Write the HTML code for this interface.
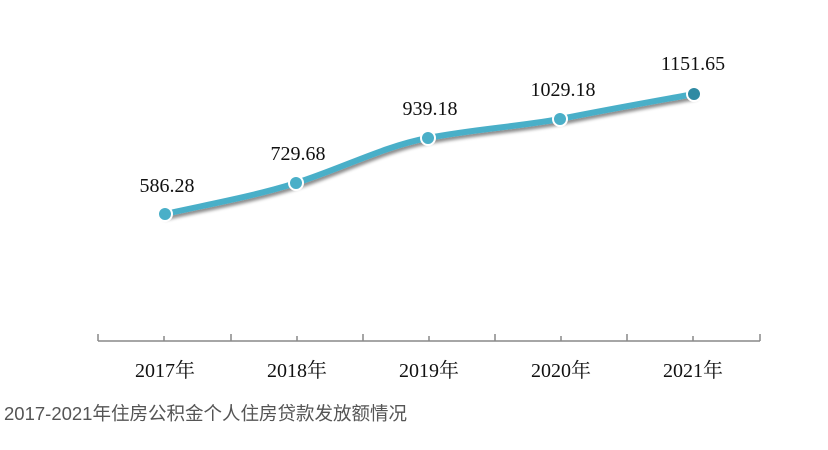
<!DOCTYPE html>
<html><head><meta charset="utf-8"><style>
body{margin:0;width:828px;height:445px;background:#fff;overflow:hidden}
</style></head><body>
<svg width="828" height="445" xmlns="http://www.w3.org/2000/svg">
<defs><filter id="s" x="-10%" y="-50%" width="120%" height="200%"><feDropShadow dx="1" dy="3" stdDeviation="1.5" flood-color="#000" flood-opacity="0.45"/></filter></defs>
<g stroke="#888" stroke-width="1.5" fill="none">
<line x1="98" y1="341" x2="760" y2="341"/>
<line x1="98" y1="334" x2="98" y2="341"/>
<line x1="164" y1="336" x2="164" y2="341"/>
<line x1="231" y1="334" x2="231" y2="341"/>
<line x1="297" y1="336" x2="297" y2="341"/>
<line x1="363" y1="334" x2="363" y2="341"/>
<line x1="429" y1="336" x2="429" y2="341"/>
<line x1="495" y1="334" x2="495" y2="341"/>
<line x1="561" y1="336" x2="561" y2="341"/>
<line x1="627" y1="334" x2="627" y2="341"/>
<line x1="693" y1="336" x2="693" y2="341"/>
<line x1="760" y1="334" x2="760" y2="341"/>
</g>
<path d="M165,214 C210,204 255,196 296,183 C345,167 385,146 428,138 C475,129 515,127 560,119 C610,109 650,102 694,94" stroke="#4aafc8" stroke-width="6" fill="none" filter="url(#s)" stroke-linecap="round"/>
<g stroke="#fff" stroke-width="2">
<circle cx="165" cy="214" r="7" fill="#4aafc8"/>
<circle cx="296" cy="183" r="7" fill="#4aafc8"/>
<circle cx="428" cy="138" r="7" fill="#4aafc8"/>
<circle cx="560" cy="119" r="7" fill="#4aafc8"/>
<circle cx="694" cy="94" r="7" fill="#2f8aa3"/>
</g>
<g font-family="Liberation Serif, Noto Serif CJK SC, serif" font-size="20" fill="#111" text-anchor="middle">
<text x="167" y="192">586.28</text>
<text x="298" y="160">729.68</text>
<text x="430" y="115">939.18</text>
<text x="563" y="96">1029.18</text>
<text x="693" y="70">1151.65</text>
<text x="165" y="377">2017年</text>
<text x="297" y="377">2018年</text>
<text x="429" y="377">2019年</text>
<text x="561" y="377">2020年</text>
<text x="693" y="377">2021年</text>
</g>
<text x="4" y="420" font-family="Liberation Sans, Noto Sans CJK SC, sans-serif" font-size="18.5" fill="#555">2017-2021年住房公积金个人住房贷款发放额情况</text>
</svg>
</body></html>
